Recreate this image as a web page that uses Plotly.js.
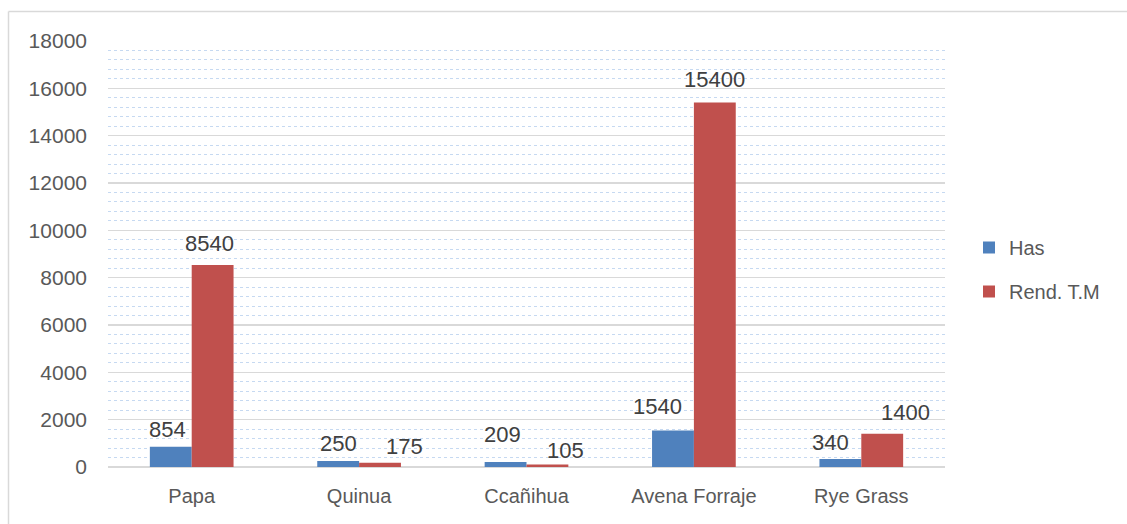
<!DOCTYPE html>
<html>
<head>
<meta charset="utf-8">
<script src="https://cdn.plot.ly/plotly-3.0.1.min.js"></script>
<style>html,body{margin:0;padding:0;background:#fff;}#chart{width:1127px;height:524px;}</style>
</head>
<body>
<div id="chart"></div>
<script>
const categories = ["Papa", "Quinua", "Ccañihua", "Avena Forraje", "Rye Grass"];
const hasValues = [854, 250, 209, 1540, 340];
const rendValues = [8540, 175, 105, 15400, 1400];
const seriesNames = ["Has", "Rend. T.M"];
const yTicks = [0, 2000, 4000, 6000, 8000, 10000, 12000, 14000, 16000, 18000];

// label placement (pixel offsets of the data labels, as in the original chart)
const hasLabelDx = [-3.5, 0, -3, -15, -9.5];
const hasLabelDy = [17.3, 18, 27.3, 24, 16.2];
const rendLabelDx = [-3.5, 24, 18.5, 0, 23];
const rendLabelDy = [21.5, 16, 14, 23, 21.5];

const FONT = "Liberation Sans, Arial, sans-serif";
const L = 108, R = 945, T = 41, B = 467, W = 1127, H = 524;
const px = x => (x - L) / (R - L);
const py = y => (B - y) / (B - T);
const halfBar = (R - L) / categories.length * 0.5 / 2 / 2;

const traces = [
  {type: "bar", name: seriesNames[0], x: categories, y: hasValues,
   marker: {color: "#4F81BD"}, hoverinfo: "skip", legendgroup: "a"},
  {type: "bar", name: seriesNames[1], x: categories, y: rendValues,
   marker: {color: "#C0504D"}, hoverinfo: "skip", legendgroup: "b"}
];

const annotations = [];
function addLabels(vals, dx, dy, side) {
  vals.forEach((v, i) => {
    annotations.push({
      x: categories[i], y: v, xref: "x", yref: "y",
      text: String(v), showarrow: false,
      xanchor: "center", yanchor: "middle",
      xshift: side * halfBar + dx[i], yshift: dy[i],
      font: {family: FONT, size: 22, color: "#404040"}
    });
  });
}
addLabels(hasValues, hasLabelDx, hasLabelDy, -1);
addLabels(rendValues, rendLabelDx, rendLabelDy, 1);

const layout = {
  width: W, height: H,
  margin: {l: L, r: W - R, t: T, b: H - B, pad: 0},
  paper_bgcolor: "#ffffff", plot_bgcolor: "#ffffff",
  font: {family: FONT, size: 19, color: "#595959"},
  barmode: "group", bargap: 0.5, bargroupgap: 0,
  showlegend: true,
  legend: {x: px(969), y: py(228), xanchor: "left", yanchor: "top",
           font: {family: FONT, size: 20, color: "#595959"},
           traceorder: "grouped", tracegroupgap: 15, itemwidth: 30,
           bgcolor: "rgba(0,0,0,0)"},
  xaxis: {type: "category", showgrid: false, zeroline: false, showline: false,
          ticks: "", ticklabelstandoff: 15, tickfont: {family: FONT, size: 20, color: "#595959"}},
  yaxis: {range: [0, 18000], tickvals: yTicks, ticktext: yTicks.map(String),
          showgrid: true, gridcolor: "#d9d9d9", gridwidth: 1.5,
          zeroline: true, zerolinecolor: "#d9d9d9", zerolinewidth: 1.5,
          showline: false, ticks: "", ticklabelstandoff: 20,
          tickfont: {family: FONT, size: 21, color: "#595959"},
          minor: {dtick: 400, tick0: 0, showgrid: true, gridcolor: "#c6d9f1", griddash: "dot", gridwidth: 1}},
  annotations: annotations,
  shapes: [
    {type: "line", xref: "paper", yref: "paper", x0: px(8.5), x1: px(1127), y0: py(11.5), y1: py(11.5),
     line: {color: "#d9d9d9", width: 1.5}},
    {type: "line", xref: "paper", yref: "paper", x0: px(8.5), x1: px(8.5), y0: py(11.5), y1: py(524),
     line: {color: "#d9d9d9", width: 1.5}}
  ]
};

Plotly.newPlot("chart", traces, layout, {displayModeBar: false, staticPlot: true});
</script>
</body>
</html>
